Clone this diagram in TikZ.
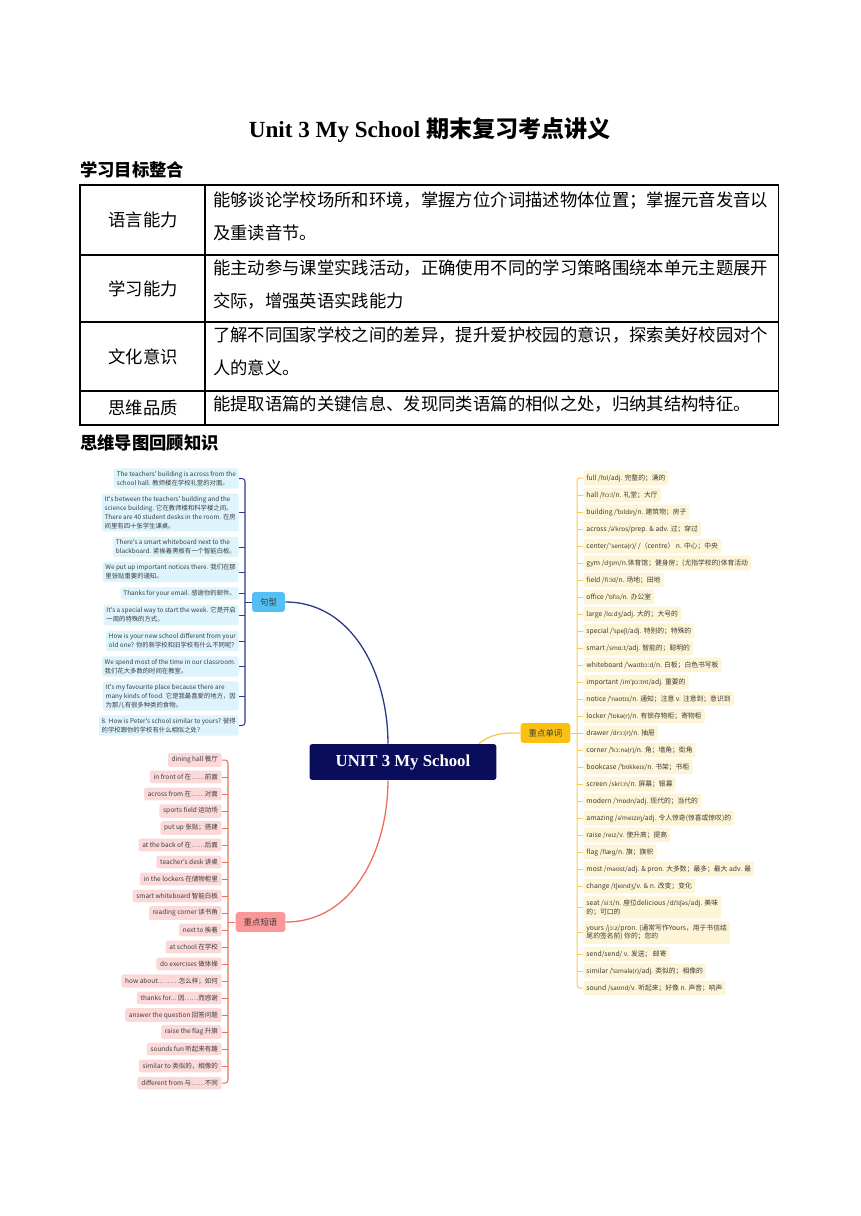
\documentclass[tikz,border=0pt]{standalone}
\usepackage{fontspec}
\setmainfont{Liberation Serif}
\newfontfamily\cjk{Noto Sans CJK SC}
\newfontfamily\ipafont{Noto Sans}[Scale=0.92]
\newcommand\ipa[1]{{\ipafont #1}}
\usetikzlibrary{positioning}
\definecolor{unitnavy}{RGB}{10,12,92}
\definecolor{jublue}{RGB}{82,192,245}
\definecolor{juline}{RGB}{44,58,140}
\definecolor{jufill}{RGB}{222,244,252}
\definecolor{kwgold}{RGB}{252,193,16}
\definecolor{kwline}{RGB}{250,200,80}
\definecolor{kwfill}{RGB}{254,245,215}
\definecolor{phpink}{RGB}{250,152,152}
\definecolor{phline}{RGB}{238,110,95}
\definecolor{phfill}{RGB}{252,217,217}
\definecolor{mmtext}{RGB}{60,60,60}
\tikzset{
  mm/.style={text=mmtext, rounded corners=1.5pt, align=left},
  branch/.style={font=\cjk\fontsize{5.8}{7}\selectfont, text=mmtext, rounded corners=2pt, inner xsep=5.6pt, inner ysep=0pt, minimum height=13.8pt},
  rule/.style={line width=0.7pt}
}
\begin{document}
\begin{tikzpicture}[x=0.6922pt, y=-0.6922pt,
  sent/.style={mm, fill=jufill, anchor=east, font=\cjk\fontsize{4.4}{6.2}\selectfont, inner xsep=2pt, inner ysep=1.9pt},
  word/.style={mm, fill=kwfill, anchor=west, font=\cjk\fontsize{4.7}{5.8}\selectfont, inner xsep=2.2pt, inner ysep=2.5pt},
  phrase/.style={mm, fill=phfill, anchor=east, font=\cjk\fontsize{4.5}{5.6}\selectfont, inner xsep=2.6pt, inner ysep=2.3pt},
  tcell/.style={font=\cjk\fontsize{12}{23.5}\selectfont, align=left, anchor=north west, inner sep=0pt}]
\fill[white] (0,0) rectangle (860,1216);
\node[font=\bfseries\fontsize{16}{18}\selectfont] (title) at (430,130) {Unit 3 My School {\cjk 期末复习考点讲义}};
\node[anchor=west, inner sep=0pt, font=\cjk\bfseries\fontsize{12}{14}\selectfont] (goals) at (80,170) {学习目标整合};
\draw[rule] (80,185) rectangle (778,425);
\foreach \y in {255,322,391} \draw[rule] (80,\y) -- (778,\y);
\draw[rule] (205,185) -- (205,425);
\foreach \y/\t [count=\i] in {220/语言能力, 289/学习能力, 357/文化意识, 408/思维品质}
  \node[font=\cjk\fontsize{12}{14}\selectfont] (aim\i) at (143,\y) {\t};
\node[tcell] (txt1) at (213,191) {能够谈论学校场所和环境，掌握方位介词描述物体位置；掌握元音发音以\\及重读音节。};
\node[tcell] (txt2) at (213,259) {能主动参与课堂实践活动，正确使用不同的学习策略围绕本单元主题展开\\交际，增强英语实践能力};
\node[tcell] (txt3) at (213,326) {了解不同国家学校之间的差异，提升爱护校园的意识，探索美好校园对个\\人的意义。};
\node[tcell] (txt4) at (213,395) {能提取语篇的关键信息、发现同类语篇的相似之处，归纳其结构特征。};
\node[anchor=west, inner sep=0pt, font=\cjk\bfseries\fontsize{12}{14}\selectfont] (review) at (80,443) {思维导图回顾知识};

\node[fill=unitnavy, text=white, rounded corners=2pt, minimum width=129.4pt, minimum height=24.9pt, font=\bfseries\fontsize{11.6}{13}\selectfont] (unit) at (403,762) {UNIT 3 My School};
\node[branch, fill=jublue] (ju) at (268.5,602) {句型};
\node[branch, fill=kwgold] (kw) at (545.5,733) {重点单词};
\node[branch, fill=phpink] (ph) at (260.5,922) {重点短语};
\draw[juline, line width=0.9pt] ([xshift=-10.4pt]unit.north) to[out=90, in=0] (ju.east);
\draw[phline, line width=0.9pt] ([xshift=-10.4pt]unit.south) to[out=-90, in=0] (ph.east);
\draw[kwline, line width=0.9pt] ([xshift=52.6pt]unit.north) to[out=40, in=180] (kw.west);

\coordinate (sspine) at (245,0);
\coordinate (wspine) at (577,0);
\coordinate (pspine) at (228,0);

\foreach \y/\t [count=\i] in {
  478.5/{The teachers' building is across from the\\school hall. 教师楼在学校礼堂的对面。},
  512.5/{It's between the teachers' building and the\\science building. 它在教师楼和科学楼之间。\\There are 40 student desks in the room. 在房\\间里有四十张学生课桌。},
  547/{There's a smart whiteboard next to the\\blackboard. 紧挨着黑板有一个智能白板。},
  572/{We put up important notices there. 我们在那\\里张贴重要的通知。},
  593.5/{Thanks for your email. 感谢你的邮件。},
  615/{It's a special way to start the week. 它是开启\\一周的特殊的方式。},
  641/{How is your new school different from your\\old one? 你的新学校和旧学校有什么不同呢?},
  666.5/{We spend most of the time in our classroom.\\我们花大多数的时间在教室。},
  696/{It's my favourite place because there are\\many kinds of food. 它是我最喜爱的地方，因\\为那儿有很多种类的食物。},
  725.5/{8. How is Peter's school similar to yours? 彼得\\的学校跟你的学校有什么相似之处?}}
  \node[sent] (s\i) at (239,\y) {\t};
\draw[juline, rule, rounded corners=2pt] (s1.east) -- (s1.east -| sspine) -- (s10.east -| sspine) -- (s10.east);
\foreach \i in {2,...,9} \draw[juline, rule] (s\i.east) -- (s\i.east -| sspine);
\draw[juline, rule] (ju.west) -- (ju.west -| sspine);

\foreach \y/\t [count=\i] in {
  478/{full /\ipa{fʊl}/adj. 完整的；满的},
  495/{hall /\ipa{hɔːl}/n. 礼堂；大厅},
  512/{building /\ipa{ˈbɪldɪŋ}/n. 建筑物；房子},
  529/{across /\ipa{əˈkrɒs}/prep. \& adv. 过；穿过},
  546/{center/ \ipa{ˈsentə(r)}/ /（centre） n. 中心；中央},
  563/{gym /\ipa{dʒɪm}/n.体育馆；健身房；(尤指学校的)体育活动},
  580/{field /\ipa{fiːld}/n. 场地；田地},
  597/{office /\ipa{ˈɒfɪs}/n. 办公室},
  614/{large /\ipa{lɑːdʒ}/adj. 大的；大号的},
  631/{special /\ipa{ˈspeʃl}/adj. 特别的；特殊的},
  648/{smart /\ipa{smɑːt}/adj. 智能的；聪明的},
  665/{whiteboard /\ipa{ˈwaɪtbɔːd}/n. 白板；白色书写板},
  682/{important /\ipa{ɪmˈpɔːtnt}/adj. 重要的},
  699/{notice /\ipa{ˈnəʊtɪs}/n. 通知；注意 v. 注意到；意识到},
  716/{locker /\ipa{ˈlɒkə(r)}/n. 有锁存物柜；寄物柜},
  733/{drawer /\ipa{drɔː(r)}/n. 抽屉},
  750/{corner /\ipa{ˈkɔːnə(r)}/n. 角；墙角；街角},
  767/{bookcase /\ipa{ˈbʊkkeɪs}/n. 书架；书柜},
  784/{screen /\ipa{skriːn}/n. 屏幕；银幕},
  801/{modern /\ipa{ˈmɒdn}/adj. 现代的；当代的},
  818/{amazing /\ipa{əˈmeɪzɪŋ}/adj. 令人惊奇(惊喜或惊叹)的},
  835/{raise /\ipa{reɪz}/v. 使升高；提高},
  852/{flag /\ipa{flæg}/n. 旗；旗帜},
  869/{most /\ipa{məʊst}/adj. \& pron. 大多数；最多；最大 adv. 最},
  886/{change /\ipa{tʃeɪndʒ}/v. \& n. 改变；变化},
  907.5/{seat /\ipa{siːt}/n. 座位delicious /\ipa{dɪˈlɪʃəs}/adj. 美味\\的；可口的},
  932.5/{yours /\ipa{jɔːz}/pron. (通常写作Yours，用于书信结\\尾的签名前) 你的；您的},
  954/{send/send/ v. 发送； 邮寄},
  971/{similar /\ipa{ˈsɪmələ(r)}/adj. 类似的；相像的},
  988/{sound /\ipa{saʊnd}/v. 听起来；好像 n. 声音；响声}}
  \node[word] (w\i) at (583,\y) {\t};
\draw[kwline, rule, rounded corners=2pt] (w1.west) -- (w1.west -| wspine) -- (w30.west -| wspine) -- (w30.west);
\foreach \i in {2,...,29} \draw[kwline, rule] (w\i.west) -- (w\i.west -| wspine);
\draw[kwline, rule] (kw.east) -- (kw.east -| wspine);

\foreach \t [count=\i] in {dining hall 餐厅, in front of 在……前面, across from 在……对面,
  sports field 运动场, put up 张贴；搭建, at the back of 在……后面, teacher's desk 讲桌,
  in the lockers 在储物柜里, smart whiteboard 智能白板, reading corner 读书角, next to 挨着,
  at school 在学校, do exercises 做体操, how about.{}.. ……怎么样；如何, thanks for.{}.. 因……而感谢,
  answer the question 回答问题, raise the flag 升旗, sounds fun 听起来有趣,
  similar to 类似的，相像的, different from 与……不同}
  \node[phrase] (p\i) at (222,{760+17*(\i-1)}) {\t};
\draw[phline, rule, rounded corners=2pt] (p1.east) -- (p1.east -| pspine) -- (p20.east -| pspine) -- (p20.east);
\foreach \i in {2,...,19} \draw[phline, rule] (p\i.east) -- (p\i.east -| pspine);
\draw[phline, rule] (ph.west) -- (ph.west -| pspine);
\end{tikzpicture}
\end{document}
